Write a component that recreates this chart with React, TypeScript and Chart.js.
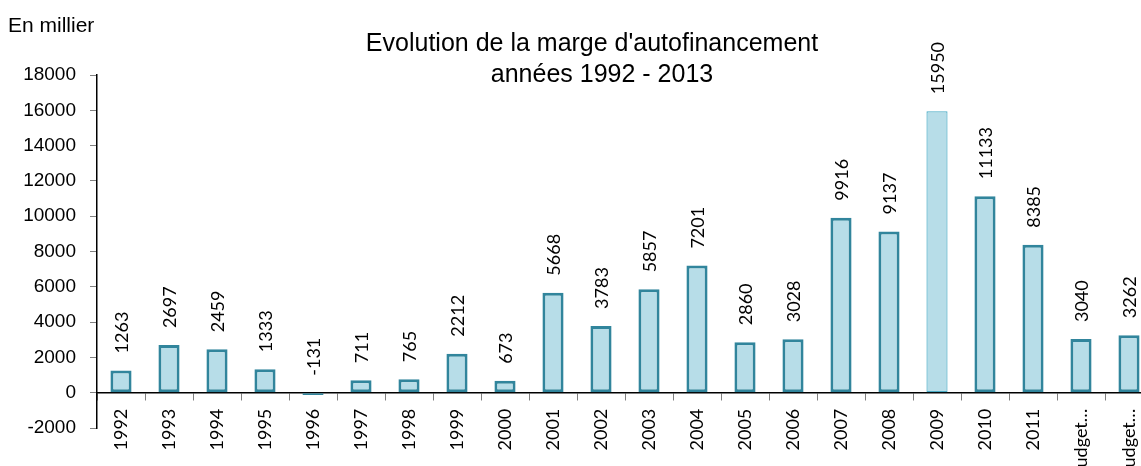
import React, { useEffect, useRef } from "react";
import { Chart, registerables } from "chart.js";

Chart.register(...registerables);

const categories = [
  "1992", "1993", "1994", "1995", "1996", "1997", "1998", "1999", "2000", "2001",
  "2002", "2003", "2004", "2005", "2006", "2007", "2008", "2009", "2010", "2011",
  "Budget…", "Budget…",
];
const values = [
  1263, 2697, 2459, 1333, -131, 711, 765, 2212, 673, 5668,
  3783, 5857, 7201, 2860, 3028, 9916, 9137, 15950, 11133, 8385,
  3040, 3262,
];
const titleLines = ["Evolution de la marge d'autofinancement", "années 1992 - 2013"];
const unitLabel = "En millier";
const yMin = -2000;
const yMax = 18000;
const yStep = 2000;

const FILL = "#B7DDE8";
const BORDER = "#31859C";
const BORDER_LIGHT = "#4BACC6";

const overlayPlugin = {
  id: "overlay",
  afterDatasetsDraw(chart: any) {
    const ctx = chart.ctx;
    const meta = chart.getDatasetMeta(0);
    const yScale = chart.scales.y;
    const zero = yScale.getPixelForValue(0);
    ctx.save();
    ctx.fillStyle = "#000";
    ctx.font = "18px Lato";
    ctx.textAlign = "left";
    ctx.textBaseline = "middle";
    meta.data.forEach((bar: any, i: number) => {
      const v = values[i];
      const top = v >= 0 ? bar.y : zero;
      ctx.save();
      ctx.translate(bar.x + 1, top - 17);
      ctx.rotate(-Math.PI / 2);
      ctx.fillText(String(v), 0, 0);
      ctx.restore();
    });
    // title
    ctx.font = "25px 'Liberation Sans', Arial, sans-serif";
    ctx.textAlign = "center";
    ctx.textBaseline = "alphabetic";
    ctx.fillText(titleLines[0], 592, 51);
    ctx.fillText(titleLines[1], 602, 82);
    // unit
    ctx.font = "21px 'Liberation Sans', Arial, sans-serif";
    ctx.textAlign = "left";
    ctx.fillText(unitLabel, 8, 32);
    ctx.restore();
  },
};

export default function App() {
  const ref = useRef<HTMLCanvasElement>(null);
  useEffect(() => {
    if (!ref.current) return;
    const chart = new Chart(ref.current, {
      type: "bar",
      data: {
        labels: categories,
        datasets: [
          {
            data: values,
            backgroundColor: FILL,
            borderColor: values.map((_, i) => (i === 17 ? BORDER_LIGHT : BORDER)),
            borderWidth: values.map((_, i) => (i === 17 ? 1.2 : 3)),
            borderSkipped: false,
            barPercentage: 0.44,
            categoryPercentage: 1,
          },
        ],
      },
      options: {
        animation: false,
        responsive: false,
        maintainAspectRatio: false,
        layout: { padding: { top: 75, bottom: 38, right: 7, left: 0 } },
        plugins: {
          legend: { display: false },
          tooltip: { enabled: false },
          title: { display: false },
        },
        scales: {
          x: {
            position: { y: 0 } as any,
            grid: {
              drawOnChartArea: false,
              tickLength: 7,
              tickColor: "#808080",
              offset: true,
            },
            border: { color: "#000", width: 1.5 },
            ticks: {
              minRotation: 90,
              maxRotation: 90,
              autoSkip: false,
              padding: 9,
              color: "#000",
              font: { family: "Lato", size: 18 },
            },
          },
          y: {
            min: yMin,
            max: yMax,
            afterFit(scale: any) {
              scale.width = 97;
            },
            grid: {
              drawOnChartArea: false,
              tickLength: 7,
              tickColor: "#808080",
            },
            border: { color: "#000", width: 1.5 },
            ticks: {
              stepSize: yStep,
              padding: 14,
              color: "#000",
              font: { family: "'Liberation Sans', Arial, sans-serif", size: 19 },
              callback: (v: any) => String(v),
            },
          },
        },
      },
      plugins: [overlayPlugin],
    });
    return () => chart.destroy();
  }, []);
  return (
    <div
      style={{
        position: "fixed",
        left: 0,
        top: 0,
        width: 1141,
        height: 466,
        overflow: "hidden",
        background: "#fff",
      }}
    >
      <canvas ref={ref} width={1160} height={466} style={{ display: "block" }} />
    </div>
  );
}
